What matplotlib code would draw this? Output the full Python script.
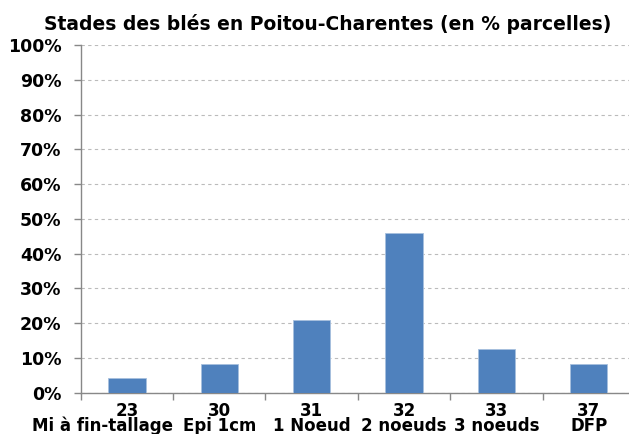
import matplotlib.pyplot as plt
import numpy as np

# Stades des blés - share of plots (%)
codes = ["23", "30", "31", "32", "33", "37"]
stages = ["Mi à fin-tallage", "Epi 1cm", "1 Noeud", "2 noeuds", "3 noeuds", "DFP"]
values = [4.2, 8.3, 20.8, 45.8, 12.5, 8.3]

fig = plt.figure(figsize=(6.29, 4.34), dpi=100)
ax = fig.add_axes([0.1283, 0.0952, 0.8812, 0.8011])

x = np.arange(len(values))
ax.bar(x, values, width=0.405, color="#4F81BD", edgecolor="#A7C0DE", linewidth=0.6, zorder=3)

ax.set_xlim(-0.5, len(values) - 0.5)
ax.set_ylim(0, 100)
ax.set_yticks(np.arange(0, 101, 10))
ax.set_yticklabels([f"{v}%" for v in range(0, 101, 10)], fontsize=12.5, fontweight="bold")
ax.yaxis.grid(True, linestyle=(0, (3, 3)), color="#BBBBBB", linewidth=0.8, zorder=0)

# category separators as ticks
ax.set_xticks(np.arange(-0.5, len(values)))
ax.set_xticklabels([])
ax.tick_params(axis="x", length=5, color="#888888", width=1)
ax.tick_params(axis="y", length=5, color="#888888", width=1, pad=9)

# two-line category labels: code above, stage name below
for i, (c, s) in enumerate(zip(codes, stages)):
    ax.annotate(c, xy=(i, 0), xycoords=("data", "axes fraction"),
                xytext=(0, -16.8), textcoords="offset points",
                ha="center", va="baseline", fontsize=12, fontweight="bold")
    # first name is too long, Excel pushes it against the separator
    if i == 0:
        ax.annotate(s, xy=(i + 0.5, 0), xycoords=("data", "axes fraction"),
                    xytext=(0, -27.8), textcoords="offset points",
                    ha="right", va="baseline", fontsize=12, fontweight="bold",
                    annotation_clip=False)
    else:
        ax.annotate(s, xy=(i, 0), xycoords=("data", "axes fraction"),
                    xytext=(0, -27.8), textcoords="offset points",
                    ha="center", va="baseline", fontsize=12, fontweight="bold")

for s in ["top", "right"]:
    ax.spines[s].set_visible(False)
for s in ["left", "bottom"]:
    ax.spines[s].set_color("#888888")
    ax.spines[s].set_linewidth(1)

fig.text(0.5215, 0.931, "Stades des blés en Poitou-Charentes (en % parcelles)",
         ha="center", va="baseline", fontsize=13.5, fontweight="bold")

fig.savefig("out.png", dpi=100)
